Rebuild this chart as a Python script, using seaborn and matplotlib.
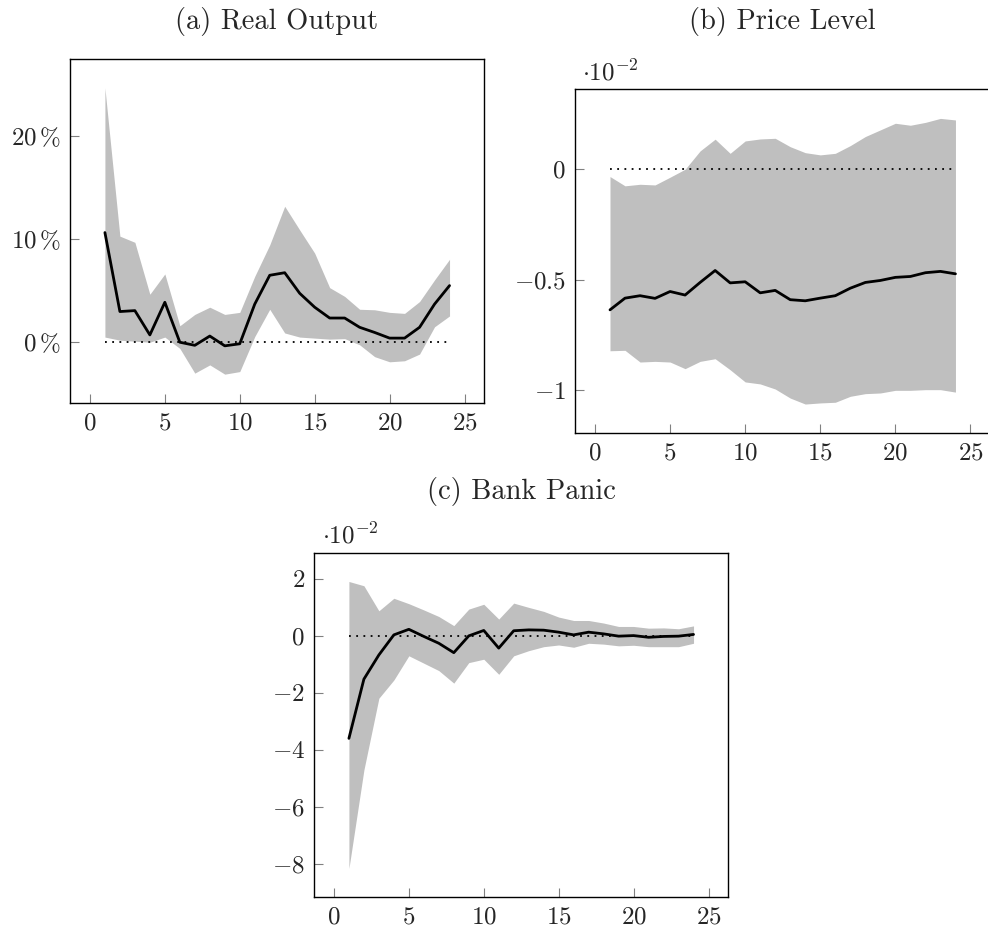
import numpy as np
import matplotlib
matplotlib.use("Agg")
import matplotlib.pyplot as plt
import seaborn as sns

# impulse responses, horizons 1..24
horizon = list(range(1, 25))

# (a) real output, in percent
output_mid = [10.65, 2.98, 3.07, 0.71, 3.88, 0.0, -0.3, 0.6, -0.35, -0.15, 3.7, 6.5,
              6.75, 4.75, 3.4, 2.35, 2.35, 1.45, 0.95, 0.4, 0.4, 1.45, 3.7, 5.5]
output_hi = [24.7, 10.3, 9.7, 4.66, 6.63, 1.6, 2.7, 3.4, 2.7, 2.9, 6.4, 9.45,
             13.2, 10.9, 8.65, 5.3, 4.45, 3.2, 3.15, 2.9, 2.8, 3.95, 6.05, 8.05]
output_lo = [0.5, 0.2, 0.1, 0.0, 0.5, -0.6, -3.0, -2.2, -3.1, -2.85, 0.55, 3.2,
             0.9, 0.5, 0.4, 0.3, 0.35, -0.25, -1.4, -1.9, -1.8, -1.15, 1.5, 2.55]

# (b) price level, x 10^-2
price_mid = [-0.636, -0.583, -0.572, -0.584, -0.553, -0.569, -0.512, -0.458, -0.514, -0.509,
             -0.559, -0.548, -0.590, -0.595, -0.583, -0.572, -0.538, -0.512, -0.503, -0.489,
             -0.485, -0.468, -0.462, -0.473]
price_hi = [-0.033, -0.075, -0.068, -0.071, -0.036, 0.0, 0.083, 0.136, 0.072, 0.128,
            0.137, 0.140, 0.102, 0.075, 0.065, 0.072, 0.107, 0.148, 0.178, 0.208,
            0.199, 0.212, 0.230, 0.223]
price_lo = [-0.821, -0.819, -0.872, -0.869, -0.872, -0.902, -0.869, -0.857, -0.907, -0.962,
            -0.971, -0.994, -1.035, -1.062, -1.057, -1.054, -1.027, -1.015, -1.012, -1.0,
            -1.0, -0.997, -0.997, -1.008]

# (c) bank panic, x 10^-2
panic_mid = [-3.6, -1.52, -0.67, 0.035, 0.23, -0.02, -0.26, -0.59, 0.0, 0.19, -0.43, 0.18,
             0.21, 0.2, 0.13, 0.035, 0.13, 0.07, -0.01, 0.01, -0.05, -0.02, -0.01, 0.05]
panic_hi = [1.91, 1.76, 0.88, 1.32, 1.13, 0.91, 0.68, 0.36, 0.94, 1.11, 0.59, 1.15,
            1.0, 0.86, 0.66, 0.54, 0.54, 0.45, 0.33, 0.33, 0.27, 0.28, 0.25, 0.35]
panic_lo = [-8.17, -4.71, -2.19, -1.55, -0.7, -0.96, -1.22, -1.66, -0.94, -0.82, -1.35, -0.7,
            -0.52, -0.38, -0.32, -0.4, -0.26, -0.29, -0.35, -0.33, -0.38, -0.38, -0.38, -0.26]

x_ticks = [0, 5, 10, 15, 20, 25]
a_yticks = [0, 10, 20]
a_ylabels = [r'$0\,\%$', r'$10\,\%$', r'$20\,\%$']
b_yticks = [-1, -0.5, 0]
b_ylabels = [r'$-1$', r'$-0.5$', r'$0$']
c_yticks = [-8, -6, -4, -2, 0, 2]
c_ylabels = [r'$-8$', r'$-6$', r'$-4$', r'$-2$', r'$0$', r'$2$']

sns.set_style("white")
plt.rcParams['font.family'] = ['cmr10', 'DejaVu Serif']
plt.rcParams['mathtext.fontset'] = 'cm'
plt.rcParams['axes.formatter.use_mathtext'] = True

W, H = 988, 930
fig = plt.figure(figsize=(W / 100, H / 100), dpi=100)


def px_axes(left, top, right, bottom):
    return fig.add_axes([left / W, 1 - bottom / H, (right - left) / W, (bottom - top) / H])


def draw_panel(ax, mid, lo, hi, yticks, ylabels, ylim):
    ax.fill_between(horizon, lo, hi, color='#bfbfbf', linewidth=0)
    ax.hlines(0, horizon[0], horizon[-1], colors='black', linestyles=(0, (1, 3)), linewidth=1.3)
    sns.lineplot(x=horizon, y=mid, ax=ax, color='black', linewidth=2.0)
    ax.set_xlim(-1.33, 26.3)
    ax.set_ylim(*ylim)
    ax.set_xticks(x_ticks, labels=[f'${t}$' for t in x_ticks])
    ax.set_yticks(yticks, labels=ylabels)
    ax.tick_params(direction='in', length=6.5, width=0.8, color='0.5', labelsize=18, pad=6.5,
                   left=True, bottom=True, top=False, right=False)
    for s in ax.spines.values():
        s.set_color('black')
        s.set_linewidth(1.0)


ax_a = px_axes(70, 59, 484, 403)
draw_panel(ax_a, output_mid, output_lo, output_hi, a_yticks, a_ylabels, (-5.9, 27.5))

ax_b = px_axes(575, 89, 990, 433)
draw_panel(ax_b, price_mid, price_lo, price_hi, b_yticks, b_ylabels, (-1.193, 0.363))

ax_c = px_axes(314, 553, 728, 897)
draw_panel(ax_c, panic_mid, panic_lo, panic_hi, c_yticks, c_ylabels, (-9.17, 2.91))

# panel titles
fig.text(277 / W, 1 - 22 / H, '(a) Real Output', ha='center', va='center', fontsize=20.5)
fig.text(782 / W, 1 - 22 / H, '(b) Price Level', ha='center', va='center', fontsize=20.5)
fig.text(521 / W, 1 - 491 / H, '(c) Bank Panic', ha='center', va='center', fontsize=20.5)

# scale factor labels
fig.text(582 / W, 1 - 80 / H, r'$\cdot 10^{-2}$', ha='left', va='baseline', fontsize=18)
fig.text(322 / W, 1 - 543 / H, r'$\cdot 10^{-2}$', ha='left', va='baseline', fontsize=18)

fig.savefig('out.png', dpi=100)
